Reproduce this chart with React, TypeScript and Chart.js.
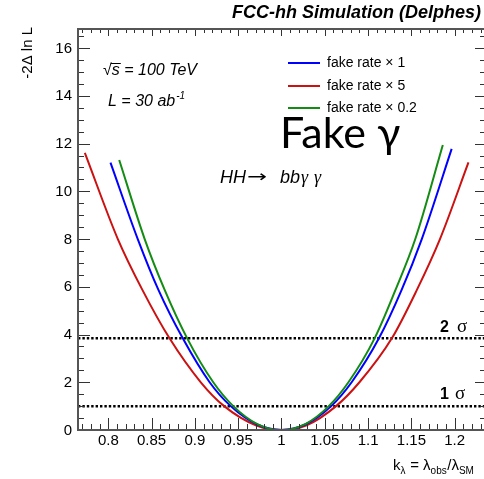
import { useEffect, useRef } from 'react';
import { Chart, registerables } from 'chart.js';

Chart.register(...registerables);

// Axis ranges
const X_MIN = 0.765;
const X_MAX = 1.235;
const Y_MIN = 0;
const Y_MAX = 16.8;

// -2Δ ln L scans versus k_λ for three fake-photon rates
const kLambdaRate1 = [0.8025, 0.834, 0.858, 0.886, 0.917, 0.9413, 0.972, 1.0, 1.028, 1.0574, 1.081, 1.1125, 1.1386, 1.162, 1.1965];
const nllRate1 = [11.2, 8.0, 5.86, 3.84, 2.0, 1.0, 0.23, 0.0, 0.24, 1.0, 2.0, 3.84, 5.86, 8.0, 11.78];

const kLambdaRate5 = [0.7729, 0.811, 0.8395, 0.8707, 0.9068, 0.9338, 0.971, 1.0, 1.029, 1.063, 1.09, 1.1274, 1.1562, 1.183, 1.2159];
const nllRate5 = [11.61, 8.0, 5.86, 3.84, 2.0, 1.0, 0.19, 0.0, 0.2, 1.0, 2.0, 3.84, 5.86, 8.0, 11.21];

const kLambdaRate02 = [0.8126, 0.842, 0.8652, 0.8911, 0.9212, 0.9443, 0.972, 1.0, 1.028, 1.0546, 1.0773, 1.1075, 1.1315, 1.1545, 1.1863];
const nllRate02 = [11.31, 8.0, 5.86, 3.84, 2.0, 1.0, 0.25, 0.0, 0.26, 1.0, 2.0, 3.84, 5.86, 8.0, 11.94];

const seriesLabels = ['fake rate × 1', 'fake rate × 5', 'fake rate × 0.2'];
const seriesColors = ['#0000ff', '#cc1111', '#138c13'];

// Confidence-level reference lines
const sigmaLevels = [1, 3.84];
const sigmaLabels = ['1', '2'];

const xTickValues = [0.8, 0.85, 0.9, 0.95, 1.0, 1.05, 1.1, 1.15, 1.2];
const xTickLabels = ['0.8', '0.85', '0.9', '0.95', '1', '1.05', '1.1', '1.15', '1.2'];
const yTickValues = [0, 2, 4, 6, 8, 10, 12, 14, 16];
const yTickLabels = ['0', '2', '4', '6', '8', '10', '12', '14', '16'];

const SANS = '"Liberation Sans", Arial, Helvetica, sans-serif';
const SERIF = '"Liberation Serif", "Times New Roman", serif';

const toPoints = (xs: number[], ys: number[]) => xs.map((x, i) => ({ x, y: ys[i] }));

const framePlugin = {
  id: 'rootFrame',
  afterDraw(chart: any) {
    const { ctx, chartArea: a, scales } = chart;
    const xs = scales.x;
    const ys = scales.y;
    ctx.save();

    // Tick marks on all four sides
    ctx.strokeStyle = '#333';
    ctx.lineWidth = 1;
    ctx.beginPath();
    for (let i = 0; i * 0.5 <= Y_MAX; i++) {
      const v = i * 0.5;
      const py = Math.round(ys.getPixelForValue(v)) + 0.5;
      const major = i % 4 === 0;
      ctx.moveTo(a.left, py);
      ctx.lineTo(a.left + (major ? 12 : 6), py);
      ctx.moveTo(a.right, py);
      ctx.lineTo(a.right - (major ? 10 : 5), py);
    }
    for (let i = Math.ceil(X_MIN * 100); i <= Math.floor(X_MAX * 100); i++) {
      const px = Math.round(xs.getPixelForValue(i / 100)) + 0.5;
      const major = i % 5 === 0;
      ctx.moveTo(px, a.bottom);
      ctx.lineTo(px, a.bottom - (major ? 12 : 6));
      ctx.moveTo(px, a.top);
      ctx.lineTo(px, a.top + (major ? 7 : 4));
    }
    ctx.stroke();

    // Frame
    ctx.strokeStyle = '#555';
    ctx.lineWidth = 2;
    ctx.strokeRect(a.left, a.top, a.right - a.left, a.bottom - a.top);

    ctx.fillStyle = '#000';

    // Tick labels
    ctx.font = `15px ${SANS}`;
    ctx.textAlign = 'right';
    ctx.textBaseline = 'middle';
    yTickValues.forEach((v, i) => {
      ctx.fillText(yTickLabels[i], a.left - 6, ys.getPixelForValue(v) + 0.5);
    });
    ctx.textAlign = 'center';
    ctx.textBaseline = 'alphabetic';
    xTickValues.forEach((v, i) => {
      ctx.fillText(xTickLabels[i], xs.getPixelForValue(v), a.bottom + 15);
    });

    // Y axis title
    ctx.save();
    ctx.translate(32, 27);
    ctx.rotate(-Math.PI / 2);
    ctx.textAlign = 'right';
    ctx.font = `15px ${SANS}`;
    ctx.fillText('-2Δ ln L', 0, 0);
    ctx.restore();

    // X axis title: k_λ = λ_obs/λ_SM
    ctx.textAlign = 'left';
    const parts: [string, boolean][] = [
      ['k', false], ['λ', true], [' = λ', false], ['obs', true], ['/λ', false], ['SM', true],
    ];
    let tx = 393;
    const tBase = 470;
    parts.forEach(([t, sub]) => {
      ctx.font = sub ? `10px ${SANS}` : `15px ${SANS}`;
      ctx.fillText(t, tx, sub ? tBase + 4 : tBase);
      tx += ctx.measureText(t).width + (sub ? 0.5 : 0);
    });

    // Title
    ctx.textAlign = 'right';
    ctx.font = `bold italic 18px ${SANS}`;
    ctx.fillText('FCC-hh Simulation (Delphes)', 481, 18);

    // √s = 100 TeV
    ctx.textAlign = 'left';
    ctx.font = `16px ${SANS}`;
    ctx.fillText('√', 103, 75);
    const rw = ctx.measureText('√').width;
    ctx.font = `italic 16px ${SANS}`;
    ctx.fillText('s = 100 TeV', 103 + rw, 75);
    const sw = ctx.measureText('s').width;
    ctx.beginPath();
    ctx.strokeStyle = '#000';
    ctx.lineWidth = 1;
    ctx.moveTo(103 + rw - 1, 63.5);
    ctx.lineTo(103 + rw + sw + 1, 63.5);
    ctx.stroke();

    // L = 30 ab^-1
    ctx.font = `italic 16px ${SANS}`;
    ctx.fillText('L = 30 ab', 108, 106);
    const lw = ctx.measureText('L = 30 ab').width;
    ctx.font = `italic 10px ${SANS}`;
    ctx.fillText('-1', 108 + lw + 1, 99);

    // Legend
    const legendY = [63, 86, 108];
    seriesLabels.forEach((label, i) => {
      ctx.beginPath();
      ctx.strokeStyle = seriesColors[i];
      ctx.lineWidth = 2;
      ctx.moveTo(288, legendY[i]);
      ctx.lineTo(320, legendY[i]);
      ctx.stroke();
      ctx.font = `14px ${SANS}`;
      ctx.textBaseline = 'middle';
      ctx.fillText(label, 327, legendY[i] + 0.5);
    });
    ctx.textBaseline = 'alphabetic';

    // Fake γ
    ctx.font = `43px Lato, "Noto Sans", sans-serif`;
    ctx.fillText('Fake γ', 280, 148);

    // HH → bbγγ
    ctx.font = `italic 18px ${SANS}`;
    ctx.fillText('HH', 220, 183);
    ctx.save();
    ctx.translate(247, 183);
    ctx.scale(1.5, 1);
    ctx.font = `16px "DejaVu Sans", sans-serif`;
    ctx.fillText('→', 0, -1);
    ctx.restore();
    ctx.font = `italic 18px ${SANS}`;
    ctx.fillText('bb', 280, 183);
    ctx.font = `italic 18px ${SERIF}`;
    ctx.fillText('γ', 301, 183);
    ctx.fillText('γ', 314, 183);

    // Sigma labels
    sigmaLevels.forEach((lvl, i) => {
      const base = i === 0 ? 399 : 332;
      ctx.font = `bold 16px ${SANS}`;
      ctx.fillText(sigmaLabels[i], 440, base);
      ctx.font = `19px ${SERIF}`;
      ctx.fillText('σ', i === 0 ? 455 : 457, base);
    });

    ctx.restore();
  },
};

export default function App() {
  const canvasRef = useRef<HTMLCanvasElement | null>(null);

  useEffect(() => {
    const canvas = canvasRef.current;
    if (!canvas) return;
    const sigmaSets = sigmaLevels.map((lvl) => ({
      label: `level ${lvl}`,
      data: [{ x: X_MIN, y: lvl }, { x: X_MAX, y: lvl }],
      borderColor: '#000',
      borderWidth: 2.5,
      borderDash: [2.4, 2.0],
      borderCapStyle: 'butt' as const,
      pointRadius: 0,
      order: 5,
    }));
    const curve = (xs: number[], ys: number[], i: number, order: number) => ({
      label: seriesLabels[i],
      data: toPoints(xs, ys),
      borderColor: seriesColors[i],
      borderWidth: 2,
      pointRadius: 0,
      cubicInterpolationMode: 'monotone' as const,
      fill: false,
      order,
    });
    const chart = new Chart(canvas, {
      type: 'line',
      data: {
        datasets: [
          curve(kLambdaRate1, nllRate1, 0, 2),
          curve(kLambdaRate5, nllRate5, 1, 3),
          curve(kLambdaRate02, nllRate02, 2, 1),
          ...sigmaSets,
        ],
      },
      options: {
        animation: false,
        responsive: false,
        devicePixelRatio: 1,
        layout: { padding: { left: 78, top: 29, right: 5, bottom: 49 } },
        plugins: { legend: { display: false }, tooltip: { enabled: false }, title: { display: false } },
        scales: {
          x: { type: 'linear', min: X_MIN, max: X_MAX, display: false },
          y: { type: 'linear', min: Y_MIN, max: Y_MAX, display: false },
        },
      },
      plugins: [framePlugin],
    });
    return () => chart.destroy();
  }, []);

  return (
    <div style={{ position: 'absolute', left: 0, top: 0, width: 484, height: 479, overflow: 'hidden', background: '#fff' }}>
      <canvas ref={canvasRef} width={490} height={479} style={{ display: 'block', width: 490, height: 479 }} />
    </div>
  );
}
